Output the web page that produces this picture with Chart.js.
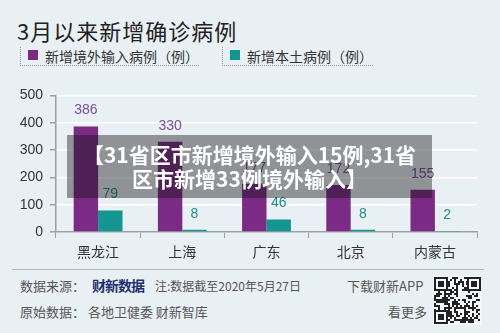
<!DOCTYPE html>
<html>
<head>
<meta charset="utf-8">
<script src="https://cdn.jsdelivr.net/npm/chart.js@4"></script>
<style>
    html, body { margin: 0; padding: 0; }
    body {
        width: 500px; height: 333px; position: relative; overflow: hidden;
        background: #e9f0f4;
        font-family: "Liberation Sans", "Noto Sans CJK SC", sans-serif;
        color: #333;
    }
    .abs { position: absolute; white-space: nowrap; }
    #title { left: 17px; top: 14px; font-size: 22px; color: #222; font-family: "Noto Sans CJK SC", sans-serif; letter-spacing: 1px; }
    .legend-item {
        position: absolute; top: 47px; height: 18px;
        border-left: 1px dotted #999; border-bottom: 1px dotted #999;
        font-size: 14px; line-height: 18px; color: #333; padding-left: 24px;
        font-family: "Noto Sans CJK SC", sans-serif;
    }
    .legend-item .sw { position: absolute; left: 7px; top: 3px; width: 10px; height: 10px; }
    #chartBox { position: absolute; left: 0; top: 80px; width: 500px; height: 185px; }
    #banner {
        position: absolute; left: 67px; top: 135px; width: 365px; height: 63px;
        background: rgba(20, 20, 20, 0.42);
        color: #fff; font-weight: bold; font-size: 21px; line-height: 24px;
        text-align: center; font-family: "Noto Sans CJK SC", sans-serif;
        padding-top: 7px; box-sizing: border-box;
    }
    #rule { position: absolute; left: 12px; top: 269px; width: 472px; height: 1px; background: #b4b9bc; }
    .foot { position: absolute; font-size: 13px; color: #555; font-family: "Noto Sans CJK SC", sans-serif; white-space: nowrap; }
    #logo { font-weight: bold; color: #1f2f6e; font-size: 14px; letter-spacing: -1px; }
    #qr { position: absolute; left: 433px; top: 276px; }
</style>
</head>
<body>
<div id="title" class="abs">3月以来新增确诊病例</div>
<div class="legend-item" style="left:20px;"><span class="sw" style="background:#7b2a86"></span>新增境外输入病例（例）</div>
<div class="legend-item" style="left:222px;"><span class="sw" style="background:#139590"></span>新增本土病例（例）</div>

<div id="chartBox"><canvas id="barChart"></canvas></div>

<div id="banner">【31省区市新增境外输入15例,31省<br>区市新增33例境外输入】</div>

<div id="rule"></div>
<div class="foot" style="left:20px; top:276px;">数据来源：</div>
<div class="foot" id="logo" style="left:92px; top:275px;">财新数据</div>
<div class="foot" style="left:155px; top:277px; font-size:12px;">注:数据截至2020年5月27日</div>
<div class="foot" style="left:347px; top:276px;">下载财新APP</div>
<div class="foot" style="left:20px; top:302px;">原始数据： 各地卫健委 财新智库</div>
<div class="foot" style="left:388px; top:302px;">看更多</div>
<canvas id="qr" width="49" height="49"></canvas>

<script>
const categories = ['黑龙江', '上海', '广东', '北京', '内蒙古'];
const importedCases = [386, 330, 177, 172, 155];
const localCases = [79, 8, 46, 8, 2];
const yTicks = [0, 100, 200, 300, 400, 500];

const purple = '#7b2a86';
const teal = '#139590';
const purpleText = '#7a4f9c';
const tealText = '#228f8b';

const valueLabels = {
    id: 'valueLabels',
    afterDatasetsDraw(chart) {
        const ctx = chart.ctx;
        ctx.save();
        ctx.font = '14px "Liberation Sans", sans-serif';
        ctx.textAlign = 'center';
        ctx.textBaseline = 'middle';
        chart.data.datasets.forEach((dataset, i) => {
            const meta = chart.getDatasetMeta(i);
            ctx.fillStyle = dataset.labelColor;
            meta.data.forEach((bar, j) => {
                ctx.fillText(String(dataset.data[j]), bar.x, bar.y - 16);
            });
        });
        ctx.restore();
    }
};

new Chart(document.getElementById('barChart'), {
    type: 'bar',
    data: {
        labels: categories,
        datasets: [{
            label: '新增境外输入病例（例）',
            data: importedCases,
            backgroundColor: purple,
            labelColor: purpleText,
            barPercentage: 1,
            categoryPercentage: 0.58
        }, {
            label: '新增本土病例（例）',
            data: localCases,
            backgroundColor: teal,
            labelColor: tealText,
            barPercentage: 1,
            categoryPercentage: 0.58
        }]
    },
    options: {
        responsive: true,
        maintainAspectRatio: false,
        animation: false,
        events: [],
        layout: { padding: { top: 10, right: 23, left: 0, bottom: 0 } },
        plugins: {
            legend: { display: false },
            tooltip: { enabled: false }
        },
        scales: {
            x: {
                grid: {
                    offset: true,
                    drawOnChartArea: false,
                    tickLength: 6,
                    tickColor: '#9aa0a4'
                },
                border: { color: '#9aa0a4', width: 1.5 },
                ticks: {
                    color: '#333',
                    padding: 5,
                    font: { size: 14, family: '"Noto Sans CJK SC", sans-serif' }
                },
                afterFit: (scale) => { scale.height = 33; }
            },
            y: {
                min: 0,
                max: 500,
                afterBuildTicks: (scale) => {
                    scale.ticks = yTicks.map((v) => ({ value: v }));
                },
                grid: {
                    color: '#ffffff',
                    lineWidth: 1.5,
                    tickLength: 6,
                    tickColor: '#9aa0a4'
                },
                border: { color: '#9aa0a4', width: 1.5 },
                ticks: {
                    color: '#333',
                    padding: 7,
                    font: { size: 14, family: '"Liberation Sans", sans-serif' }
                },
                afterFit: (scale) => { scale.width = 56; }
            }
        }
    },
    plugins: [valueLabels]
});

// decorative QR block
const qr = document.getElementById('qr').getContext('2d');
qr.fillStyle = '#f4f6f7';
qr.fillRect(0, 0, 49, 49);
const cell = 2;
const n = 23;
qr.fillStyle = '#222';
for (let r = 0; r < n; r++) {
    for (let c = 0; c < n; c++) {
        const h = Math.sin(r * 12.9898 + c * 78.233) * 43758.5453;
        if (h - Math.floor(h) > 0.52) {
            qr.fillRect(1 + c * cell, 1 + r * cell, cell, cell);
        }
    }
}
const finder = (x, y) => {
    qr.fillStyle = '#222';
    qr.fillRect(x, y, 14, 14);
    qr.fillStyle = '#f4f6f7';
    qr.fillRect(x + 2, y + 2, 10, 10);
    qr.fillStyle = '#222';
    qr.fillRect(x + 4, y + 4, 6, 6);
};
finder(1, 1);
finder(34, 1);
finder(1, 34);
</script>
</body>
</html>
